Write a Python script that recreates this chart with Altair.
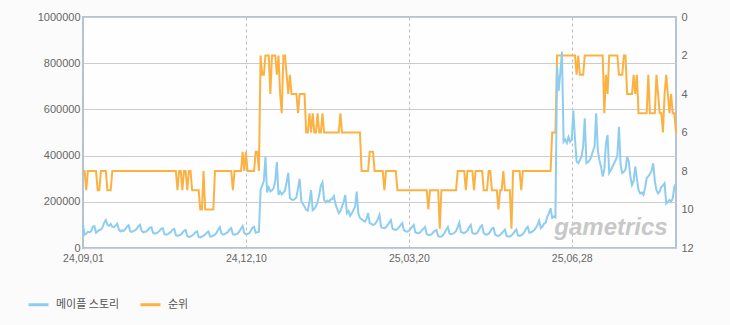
import altair as alt
import pandas as pd

# Daily unique visitors of 메이플 스토리 (2024-09-01 .. 2025-08-31)
visitors_k = [
    100, 58, 62, 70, 68, 72, 92,
    95, 66, 72, 78, 80, 90, 110,
    121, 100, 96, 104, 92, 90, 98,
    105, 80, 72, 76, 74, 82, 92,
    98, 72, 70, 74, 76, 84, 94,
    100, 74, 68, 70, 72, 80, 88,
    90, 66, 62, 64, 68, 74, 84,
    86, 60, 58, 60, 64, 70, 80,
    82, 56, 52, 55, 58, 66, 74,
    78, 52, 48, 50, 54, 60, 68,
    72, 48, 46, 50, 52, 60, 66,
    72, 50, 50, 54, 58, 66, 80,
    90, 62, 58, 60, 64, 70, 80,
    86, 60, 58, 60, 62, 72, 84,
    95, 64, 60, 62, 64, 74, 88,
    92, 66, 68, 70, 250, 270, 290,
    395, 240, 262, 245, 250, 258, 290,
    372, 230, 245, 232, 240, 250, 286,
    325, 216, 210, 208, 212, 220, 260,
    299, 203, 190, 179, 165, 161, 200,
    251, 164, 170, 180, 200, 230, 270,
    284, 208, 198, 205, 200, 210, 212,
    225, 190, 170, 151, 160, 180, 200,
    229, 151, 160, 139, 150, 165, 179,
    244, 150, 130, 125, 118, 114, 125,
    151, 108, 104, 100, 102, 112, 125,
    143, 90, 87, 86, 90, 100, 110,
    121, 84, 80, 78, 82, 90, 100,
    108, 76, 72, 71, 74, 82, 92,
    100, 68, 65, 64, 68, 76, 84,
    91, 60, 56, 56, 60, 68, 74,
    78, 52, 49, 50, 56, 66, 80,
    91, 62, 60, 62, 66, 74, 90,
    110, 70, 66, 65, 68, 76, 90,
    100, 66, 62, 62, 66, 78, 92,
    98, 64, 58, 58, 62, 72, 84,
    87, 58, 54, 52, 56, 64, 72,
    80, 52, 50, 50, 54, 62, 72,
    80, 54, 52, 56, 60, 70, 84,
    92, 66, 68, 72, 78, 88, 100,
    118, 86, 92, 105, 110, 136, 150,
    172, 130, 136, 132, 785, 680, 760,
    850, 460, 470, 455, 480, 460, 470,
    595, 470, 374, 367, 380, 395, 440,
    561, 367, 372, 380, 395, 420, 438,
    583, 424, 380, 352, 309, 340, 453,
    489, 325, 338, 352, 367, 381, 400,
    525, 360, 325, 330, 340, 395, 375,
    309, 273, 290, 352, 300, 250, 236,
    240, 230, 260, 303, 310, 320, 335,
    367, 290, 250, 236, 245, 265, 270,
    280, 193, 200, 208, 200, 215, 265,
    280,
]

# Daily rank (순위)
rank = [
    8, 8, 9, 8, 8, 8, 8, 8, 8, 9,
    9, 8, 8, 8, 8, 9, 9, 9, 8, 8,
    8, 8, 8, 8, 8, 8, 8, 8, 8, 8,
    8, 8, 8, 8, 8, 8, 8, 8, 8, 8,
    8, 8, 8, 8, 8, 8, 8, 8, 8, 8,
    8, 8, 8, 8, 8, 8, 8, 8, 9, 8,
    8, 9, 8, 8, 9, 8, 8, 9, 9, 9,
    9, 9, 10, 10, 8, 10, 10, 10, 10, 10,
    10, 8, 8, 8, 8, 8, 8, 8, 8, 8,
    8, 8, 9, 8, 8, 8, 8, 8, 7, 8,
    7, 8, 8, 8, 8, 8, 7, 7, 8, 2,
    3, 3, 2, 2, 2, 4, 2, 2, 2, 3,
    2, 4, 5, 2, 2, 3, 4, 3, 4, 4,
    4, 4, 5, 4, 4, 4, 4, 6, 6, 5,
    6, 5, 6, 6, 5, 6, 6, 5, 6, 6,
    6, 6, 6, 6, 6, 6, 6, 6, 5, 6,
    6, 6, 6, 6, 6, 6, 6, 6, 6, 6,
    6, 8, 8, 8, 8, 8, 7, 7, 7, 8,
    8, 8, 8, 8, 8, 9, 8, 8, 8, 8,
    8, 8, 8, 9, 9, 9, 9, 9, 9, 9,
    9, 9, 9, 9, 9, 9, 9, 9, 9, 9,
    9, 9, 10, 9, 9, 9, 9, 9, 9, 11,
    9, 9, 9, 9, 9, 9, 9, 9, 9, 9,
    8, 8, 8, 8, 8, 9, 8, 8, 8, 8,
    9, 8, 8, 8, 8, 8, 9, 9, 9, 8,
    8, 9, 9, 9, 9, 10, 9, 9, 8, 9,
    9, 9, 9, 11, 8, 8, 8, 8, 8, 9,
    8, 8, 8, 8, 8, 8, 8, 8, 8, 8,
    8, 8, 8, 8, 8, 8, 8, 8, 6, 6,
    6, 2, 2, 2, 2, 2, 2, 2, 2, 2,
    2, 2, 2, 3, 2, 3, 3, 3, 2, 2,
    2, 2, 2, 2, 2, 2, 2, 2, 2, 2,
    5, 3, 4, 2, 2, 2, 2, 2, 2, 3,
    3, 3, 2, 2, 4, 4, 4, 4, 3, 4,
    3, 5, 5, 5, 5, 5, 5, 3, 5, 5,
    5, 5, 3, 4, 5, 5, 6, 4, 3, 4,
    5, 4, 5, 5, 6,
]

series_names = ["메이플 스토리", "순위"]
series_colors = ["#8fcdf0", "#fbb243"]
tick_dates = [(2024, 9, 1), (2024, 12, 10), (2025, 3, 20), (2025, 6, 28)]

def day_strings(n):
    return [d.strftime("%Y-%m-%d") for d in pd.date_range("2024-09-01", periods=n, freq="D")]

df_v = pd.DataFrame({"date": day_strings(len(visitors_k)),
                     "value": [v * 1000 for v in visitors_k],
                     "series": series_names[0]})
df_r = pd.DataFrame({"date": day_strings(len(rank)),
                     "rank": rank,
                     "series": series_names[1]})

FONT = "Liberation Sans"
LBL = "#666666"

xdom = [alt.DateTime(year=2024, month=9, date=1, utc=True),
        alt.DateTime(year=2025, month=8, date=31, utc=True)]
xvals = [alt.DateTime(year=y, month=m, date=d, utc=True) for (y, m, d) in tick_dates]

x_enc = alt.X("date:T",
              scale=alt.Scale(type="utc", domain=xdom),
              axis=alt.Axis(values=xvals, labelExpr="utcFormat(datum.value, '%y,%m,%d')",
                            grid=True, gridDash=[3, 3], gridColor="#bdbdbd",
                            ticks=False, domain=False, labelFlush=False,
                            labelOverlap=False, labelFont=FONT, labelFontSize=10.5,
                            labelColor=LBL, labelPadding=5, title=None))

color_enc = alt.Color("series:N",
                      scale=alt.Scale(domain=series_names, range=series_colors),
                      legend=alt.Legend(orient="none", legendX=-56, legendY=276,
                                        direction="horizontal", title=None,
                                        symbolType="stroke", symbolStrokeWidth=3,
                                        symbolSize=400, labelFont="Noto Sans CJK KR",
                                        labelFontSize=11, labelColor="#555555",
                                        labelOffset=6, columnPadding=14))

watermark = alt.Chart(pd.DataFrame({"t": ["gametrics"]})).mark_text(
    font=FONT, fontSize=24, fontStyle="italic", fontWeight="bold",
    color="#c8c8c8", align="center", baseline="alphabetic"
).encode(x=alt.value(528), y=alt.value(218), text="t:N")

rank_line = alt.Chart(df_r).mark_line(strokeWidth=2, interpolate="linear").encode(
    x=x_enc,
    y=alt.Y("rank:Q",
            scale=alt.Scale(domain=[0, 12], reverse=True, nice=False),
            axis=alt.Axis(orient="right", values=list(range(0, 13, 2)), grid=False,
                          ticks=False, domain=False, labelFont=FONT, labelFontSize=11,
                          labelColor=LBL, labelPadding=5, title=None)),
    color=color_enc,
)

visit_line = alt.Chart(df_v).mark_line(strokeWidth=2, interpolate="linear").encode(
    x=x_enc,
    y=alt.Y("value:Q",
            scale=alt.Scale(domain=[0, 1000000], nice=False),
            axis=alt.Axis(orient="left", values=list(range(0, 1000001, 200000)),
                          format="d", grid=True, gridColor="#cccccc", ticks=False,
                          domain=False, labelFont=FONT, labelFontSize=11,
                          labelColor=LBL, labelPadding=3, title=None)),
    color=color_enc,
)

chart = alt.layer(watermark, rank_line, visit_line).resolve_scale(
    y="independent"
).properties(
    width=593, height=231,
    padding={"left": 83, "top": 17, "right": 54, "bottom": 77},
    autosize=alt.AutoSizeParams(type="none"),
    background="#fbfbfb",
).configure_view(stroke="#b4c4d6", strokeWidth=2, fill="#fefefe")

chart.save("out.html", embed_options={"renderer": "svg", "actions": False})
